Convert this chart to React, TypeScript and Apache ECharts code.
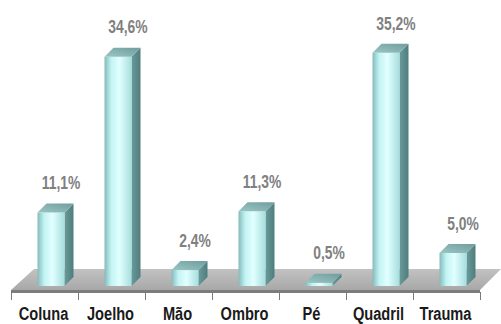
import React, { useEffect, useRef } from "react";
import * as echarts from "echarts";

const categories = ["Coluna", "Joelho", "Mão", "Ombro", "Pé", "Quadril", "Trauma"];
const percentages = [11.1, 34.6, 2.4, 11.3, 0.5, 35.2, 5.0];
const yMax = 40;

const FONT = "'Liberation Sans', Arial, sans-serif";

export default function App() {
  const ref = useRef<HTMLDivElement>(null);

  useEffect(() => {
    const chart = echarts.init(ref.current!, null, { renderer: "svg" });

    const DX = 9;
    const DY = 9;
    const W = 27;
    const LIFT = 6;
    const OFFX = -7;
    const NARROW = 0.77;

    const frontGrad = () =>
      new echarts.graphic.LinearGradient(0, 0, 1, 0, [
        { offset: 0, color: "#86baba" },
        { offset: 0.25, color: "#c2f4f4" },
        { offset: 0.55, color: "#e2ffff" },
        { offset: 1, color: "#a6dede" },
      ]);
    const sideGrad = () =>
      new echarts.graphic.LinearGradient(0, 0, 1, 0, [
        { offset: 0, color: "#6a9a9a" },
        { offset: 1, color: "#4f7d7d" },
      ]);
    const topGrad = () =>
      new echarts.graphic.LinearGradient(0, 1, 1, 0, [
        { offset: 0, color: "#9cc6c6" },
        { offset: 1, color: "#6f9c9c" },
      ]);

    const fmt = (v: number) => v.toFixed(1).replace(".", ",") + "%";

    const renderBar = (params: any, api: any) => {
      const i = api.value(0);
      const v = api.value(1);
      const top = api.coord([i, v]);
      const base = api.coord([i, 0]);
      const x0 = base[0] + OFFX;
      const x1 = x0 + W;
      const yb = base[1] - LIFT;
      const yt = top[1] - LIFT;
      return {
        type: "group",
        children: [
          {
            type: "polygon",
            shape: { points: [[x1, yt], [x1 + DX, yt - DY], [x1 + DX, yb - DY], [x1, yb]] },
            style: { fill: sideGrad() },
          },
          {
            type: "rect",
            shape: { x: x0, y: yt, width: W, height: Math.max(yb - yt, 0.5) },
            style: { fill: frontGrad() },
          },
          {
            type: "polygon",
            shape: { points: [[x0, yt], [x1, yt], [x1 + DX, yt - DY], [x0 + DX, yt - DY]] },
            style: { fill: topGrad() },
          },
          {
            type: "text",
            x: (x0 + x1) / 2 + 10,
            y: yt - 30,
            scaleX: NARROW,
            style: {
              text: fmt(v),
              fill: "#808080",
              fontSize: 18,
              fontWeight: "bold",
              fontFamily: FONT,
              align: "center",
              verticalAlign: "middle",
            },
          },
          {
            type: "text",
            x: base[0] - 1,
            y: base[1] + 21.5,
            scaleX: NARROW,
            style: {
              text: categories[i],
              fill: "#1a1a1a",
              fontSize: 19,
              fontWeight: "bold",
              fontFamily: FONT,
              align: "center",
              verticalAlign: "middle",
            },
          },
        ],
      };
    };

    const renderFloor = (params: any, api: any) => {
      const c0 = api.coord([0, 0]);
      const c1 = api.coord([categories.length - 1, 0]);
      const bw = api.size([1, 0])[0];
      const L = c0[0] - bw / 2;
      const R = c1[0] + bw / 2;
      const y0 = c0[1];
      return {
        type: "group",
        children: [
          {
            type: "polygon",
            shape: { points: [[L, y0 - 2], [R, y0 - 2], [R + 21, y0 - 23], [L + 23, y0 - 23]] },
            style: {
              fill: new echarts.graphic.LinearGradient(0, 0, 0, 1, [
                { offset: 0, color: "#c2c2c2" },
                { offset: 1, color: "#a8a8a8" },
              ]),
            },
          },
          {
            type: "rect",
            shape: { x: L, y: y0 - 2, width: R - L, height: 3 },
            style: { fill: "#7c7c7c" },
          },
        ],
      };
    };

    chart.setOption({
      animation: false,
      backgroundColor: "#ffffff",
      grid: { left: 11, right: 21, top: 27, height: 265 },
      xAxis: {
        type: "category",
        data: categories,
        axisLine: { show: false },
        axisTick: { show: true, interval: 0, length: 8, lineStyle: { color: "#7a7a7a", width: 1 } },
        axisLabel: { show: false },
        splitLine: { show: false },
      },
      yAxis: {
        type: "value",
        min: 0,
        max: yMax,
        show: false,
        splitLine: { show: false },
      },
      series: [
        {
          type: "custom",
          z: 1,
          renderItem: renderFloor,
          data: [[0, 0]],
          encode: { x: 0, y: 1 },
          silent: true,
        },
        {
          type: "custom",
          z: 3,
          renderItem: renderBar,
          data: percentages.map((v, i) => [i, v]),
          encode: { x: 0, y: 1 },
        },
      ],
    });

    return () => chart.dispose();
  }, []);

  return (
    <div
      ref={ref}
      style={{ position: "fixed", left: 0, top: 0, width: 501, height: 324 }}
    />
  );
}
